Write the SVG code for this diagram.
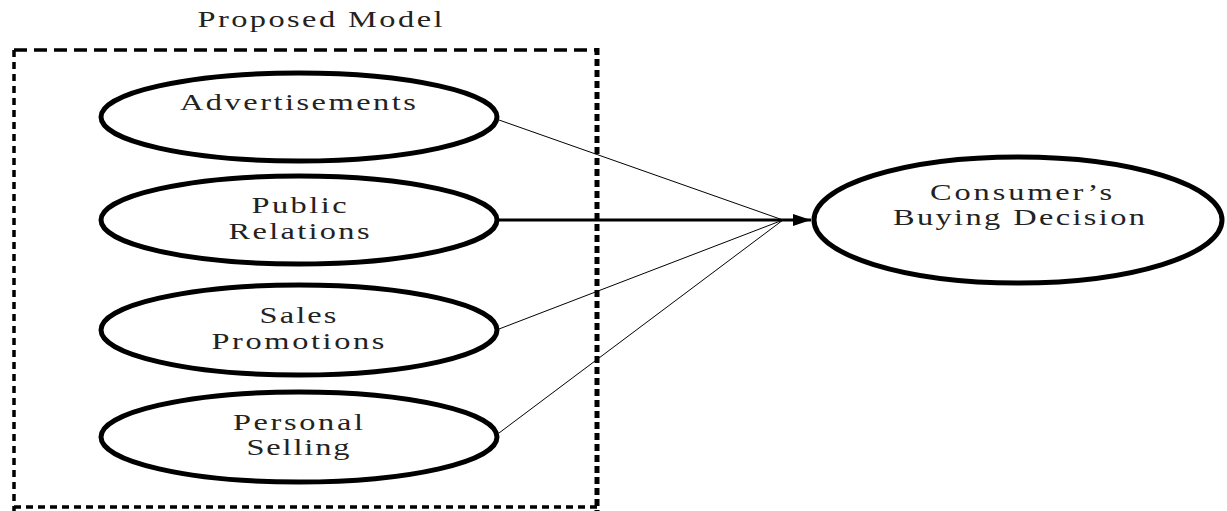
<svg xmlns="http://www.w3.org/2000/svg" width="1227" height="511" viewBox="0 0 1227 511">
<style>
.node{fill:#fff;stroke:#000;stroke-width:5}
.lbl{font-family:"Liberation Serif","Times New Roman",serif;font-size:24px;fill:#222;text-anchor:middle}
.thin{stroke:#000;stroke-width:1;fill:none}
.thick{stroke:#000;stroke-width:3;fill:none}
</style>
<defs>
<marker id="arr" markerWidth="18" markerHeight="12" refX="18" refY="6" orient="auto" markerUnits="userSpaceOnUse">
<path d="M0,0 L18,6 L0,12 Z" fill="#000"/>
</marker>
</defs>
<rect width="1227" height="511" fill="#fff"/>
<g transform="scale(1.35,1)"><text class="lbl" x="237" y="27" textLength="181.5">Proposed Model</text></g>
<g id="boundary" fill="none" stroke="#000">
<line x1="14" y1="50" x2="597" y2="50" stroke-width="3.5" stroke-dasharray="13,7"/>
<line x1="14" y1="50" x2="14" y2="511" stroke-width="3.5" stroke-dasharray="7,5"/>
<line x1="597" y1="48" x2="597" y2="511" stroke-width="5" stroke-dasharray="7,4"/>
<line x1="14" y1="507" x2="597" y2="507" stroke-width="3.5" stroke-dasharray="7,5"/>
</g>
<g id="connectors">
<line class="thin" x1="499" y1="120" x2="783" y2="220"/>
<line class="thin" x1="499" y1="329" x2="783" y2="220"/>
<line class="thin" x1="499" y1="433" x2="783" y2="220"/>
<line class="thick" x1="499" y1="220" x2="811" y2="220" marker-end="url(#arr)"/>
</g>
<g id="advertisements">
<ellipse class="node" cx="299" cy="117" rx="198" ry="44"/>
<g transform="scale(1.35,1)"><text class="lbl" x="220.7" y="110" textLength="174.8">Advertisements</text></g>
</g>
<g id="public-relations">
<ellipse class="node" cx="299" cy="220" rx="198" ry="44"/>
<g transform="scale(1.35,1)">
<text class="lbl" x="221.5" y="213" textLength="70.4">Public</text>
<text class="lbl" x="221.5" y="239" textLength="104.4">Relations</text>
</g>
</g>
<g id="sales-promotions">
<ellipse class="node" cx="299" cy="330" rx="198" ry="45"/>
<g transform="scale(1.35,1)">
<text class="lbl" x="220.7" y="323" textLength="57">Sales</text>
<text class="lbl" x="220.7" y="349" textLength="128.1">Promotions</text>
</g>
</g>
<g id="personal-selling">
<ellipse class="node" cx="299" cy="437" rx="198" ry="45"/>
<g transform="scale(1.35,1)">
<text class="lbl" x="220.7" y="430" textLength="96.3">Personal</text>
<text class="lbl" x="220.7" y="455" textLength="76.3">Selling</text>
</g>
</g>
<g id="consumers-buying-decision">
<ellipse class="node" cx="1018" cy="220" rx="204" ry="63"/>
<g transform="scale(1.35,1)">
<text class="lbl" x="756.3" y="200" textLength="134.8">Consumer’s</text>
<text class="lbl" x="754.8" y="225" textLength="186.7">Buying Decision</text>
</g>
</g>
</svg>
